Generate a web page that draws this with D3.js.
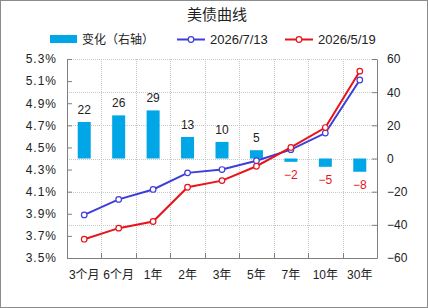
<!DOCTYPE html>
<html>
<head>
<meta charset="utf-8">
<script src="https://cdn.jsdelivr.net/npm/d3@7"></script>
<style>
  body { margin: 0; background: #fff; }
  svg { display: block; font-family: "Liberation Sans", "Noto Sans CJK SC", sans-serif; }
</style>
</head>
<body>
<div id="chart"></div>
<script>
// data
var categories = ["3个月", "6个月", "1年", "2年", "3年", "5年", "7年", "10年", "30年"];
var yieldJul13 = [3.89, 4.03, 4.12, 4.27, 4.30, 4.38, 4.48, 4.63, 5.11];
var yieldMay19 = [3.67, 3.77, 3.83, 4.14, 4.20, 4.33, 4.50, 4.68, 5.19];
var change = [22, 26, 29, 13, 10, 5, -2, -5, -8];
var leftTicks = [3.5, 3.7, 3.9, 4.1, 4.3, 4.5, 4.7, 4.9, 5.1, 5.3];
var rightTicks = [-60, -40, -20, 0, 20, 40, 60];

var W = 428, H = 308;
var margin = { left: 67, right: 51, top: 59, bottom: 50 };
var pw = W - margin.left - margin.right;
var ph = H - margin.top - margin.bottom;

var barColor = "#00a6e6", blue = "#3d3ddb", red = "#e8131b";
var axisColor = "#7f7f7f";

var svg = d3.select("#chart").append("svg")
  .attr("width", W).attr("height", H);

// outer frame
svg.append("rect")
  .attr("x", 0.5).attr("y", 0.5)
  .attr("width", W - 1).attr("height", H - 1)
  .attr("fill", "#fff").attr("stroke", "#8c8c8c");

var x = d3.scaleBand().domain(categories).range([0, pw]);
var yL = d3.scaleLinear().domain([3.5, 5.3]).range([ph, 0]);
var yR = d3.scaleLinear().domain([-60, 60]).range([ph, 0]);

var g = svg.append("g").attr("transform", "translate(" + margin.left + "," + margin.top + ")");

// gridlines
g.selectAll(".hgrid").data(rightTicks.filter(d => d > -60))
  .enter().append("line")
  .attr("x1", 0).attr("x2", pw)
  .attr("y1", d => Math.round(yR(d)) + 0.5).attr("y2", d => Math.round(yR(d)) + 0.5)
  .attr("stroke", "#c8c8c8").attr("stroke-dasharray", "1,1");

g.selectAll(".vgrid").data(categories.slice(1))
  .enter().append("line")
  .attr("x1", d => Math.round(x(d)) + 0.5).attr("x2", d => Math.round(x(d)) + 0.5)
  .attr("y1", 0).attr("y2", ph)
  .attr("stroke", "#c8c8c8").attr("stroke-dasharray", "1,1");

// bars
var bw = 13;
g.selectAll(".bar").data(change)
  .enter().append("rect")
  .attr("x", (d, i) => x(categories[i]) + x.bandwidth() / 2 - bw / 2)
  .attr("y", d => yR(Math.max(d, 0)))
  .attr("width", bw)
  .attr("height", d => Math.abs(yR(d) - yR(0)))
  .attr("fill", barColor);

g.selectAll(".barlabel").data(change)
  .enter().append("text")
  .attr("x", (d, i) => x(categories[i]) + x.bandwidth() / 2)
  .attr("y", d => d >= 0 ? yR(d) - 8 : yR(d) + 17)
  .attr("text-anchor", "middle")
  .attr("font-size", 12)
  .attr("fill", d => d >= 0 ? "#222" : red)
  .text(d => d < 0 ? "\u2212" + Math.abs(d) : d);

// lines
function drawLine(vals, color) {
  var line = d3.line()
    .x((d, i) => x(categories[i]) + x.bandwidth() / 2)
    .y(d => yL(d));
  g.append("path").datum(vals)
    .attr("d", line).attr("fill", "none")
    .attr("stroke", color).attr("stroke-width", 2);
  g.selectAll(null).data(vals)
    .enter().append("circle")
    .attr("cx", (d, i) => x(categories[i]) + x.bandwidth() / 2)
    .attr("cy", d => yL(d))
    .attr("r", 2.8)
    .attr("fill", "#fff").attr("stroke", color).attr("stroke-width", 1.2);
}
drawLine(yieldJul13, blue);
drawLine(yieldMay19, red);

// axes
var leftAxis = d3.axisLeft(yL).tickValues(leftTicks)
  .tickSizeInner(-5).tickSizeOuter(0).tickPadding(10)
  .tickFormat(d => d3.format(".1f")(d) + "%");
var gl = g.append("g").call(leftAxis);

var rightAxis = d3.axisRight(yR).tickValues(rightTicks)
  .tickSizeInner(-5).tickSizeOuter(0).tickPadding(10)
  .tickFormat(d => d < 0 ? "\u2212" + Math.abs(d) : d);
var gr = g.append("g").attr("transform", "translate(" + pw + ",0)").call(rightAxis);

var bottomAxis = d3.axisBottom(x).tickSize(0).tickPadding(12);
var gb = g.append("g").attr("transform", "translate(0," + ph + ")").call(bottomAxis);
gb.selectAll(".bt").data(categories.slice(1))
  .enter().append("line").attr("class", "bt")
  .attr("x1", d => Math.round(x(d)) + 0.5).attr("x2", d => Math.round(x(d)) + 0.5)
  .attr("y1", 0).attr("y2", -5).attr("stroke", axisColor);

[gl, gr, gb].forEach(function(a) {
  a.select(".domain").attr("stroke", axisColor);
  a.selectAll(".tick line").attr("stroke", axisColor);
  a.selectAll("text").attr("font-size", 12).attr("fill", "#222")
    .attr("font-family", "'Liberation Sans', 'Noto Sans CJK SC', sans-serif");
});
gl.selectAll("text").attr("letter-spacing", "1px");

// title
svg.append("text")
  .attr("x", 217).attr("y", 20)
  .attr("text-anchor", "middle")
  .attr("font-size", 15)
  .attr("font-family", "'Noto Sans CJK SC', sans-serif")
  .attr("fill", "#222")
  .text("美债曲线");

// legend
var lg = svg.append("g").attr("font-size", 12).attr("fill", "#222");
lg.append("rect").attr("x", 50).attr("y", 35).attr("width", 27).attr("height", 8).attr("fill", barColor);
lg.append("text").attr("x", 82).attr("y", 44)
  .attr("font-family", "'Noto Sans CJK SC', sans-serif").text("变化（右轴）");

var legendLines = [
  { x: 177, color: blue, label: "2026/7/13" },
  { x: 285, color: red, label: "2026/5/19" }
];
legendLines.forEach(function(l) {
  lg.append("line").attr("x1", l.x).attr("x2", l.x + 28)
    .attr("y1", 39.5).attr("y2", 39.5)
    .attr("stroke", l.color).attr("stroke-width", 2);
  lg.append("circle").attr("cx", l.x + 14).attr("cy", 39.5).attr("r", 2.8)
    .attr("fill", "#fff").attr("stroke", l.color).attr("stroke-width", 1.2);
  lg.append("text").attr("x", l.x + 33).attr("y", 44).attr("font-size", 13).text(l.label);
});
</script>
</body>
</html>
